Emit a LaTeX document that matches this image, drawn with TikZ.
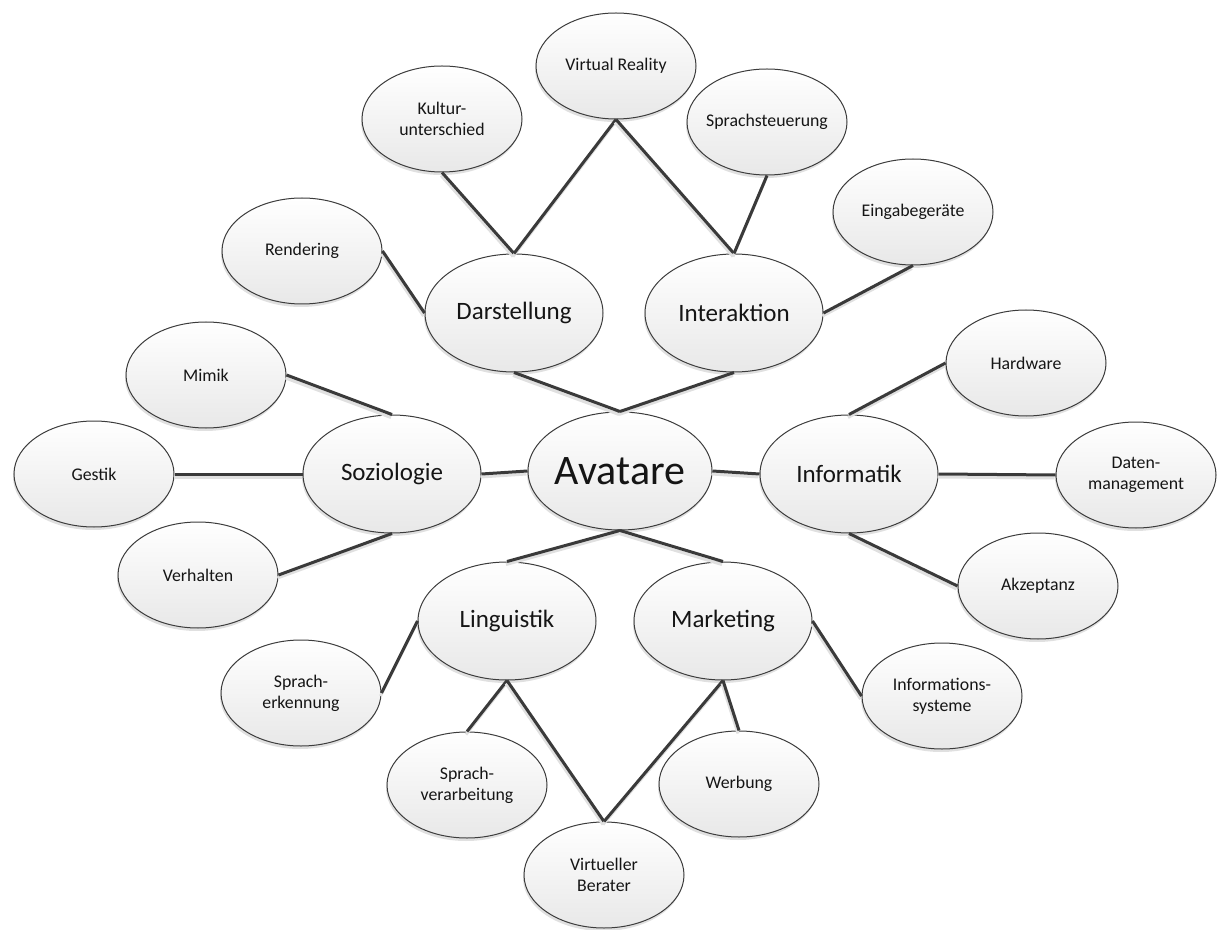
\documentclass[tikz,border=0pt]{standalone}
\usepackage{fontspec}
\setmainfont{Carlito}
\usepackage{tikz}
\usetikzlibrary{
  shapes.geometric,
  shadows,
  positioning
}
\definecolor{mmLine}{HTML}{3C3C3C}
\definecolor{mmEdge}{HTML}{3A3A3A}
\definecolor{mmTop}{HTML}{FFFFFF}
\definecolor{mmBot}{HTML}{E8E8E8}
\definecolor{mmShadow}{HTML}{E0E0E0}
\definecolor{mmText}{HTML}{151515}
\tikzset{
  mmnode/.style={
    ellipse, draw=mmLine, line width=0.5pt, top color=mmTop, bottom color=mmBot,
    align=center, text=mmText, inner xsep=-6pt, inner ysep=0pt,
    drop shadow={shadow xshift=-0.5pt, shadow yshift=-1.5pt, fill=mmShadow, opacity=1}
  },
  leaf/.style={mmnode, minimum width=80pt, minimum height=53pt, font=\fontsize{8.9}{10.4}\selectfont},
  topic/.style={mmnode, minimum width=89pt, minimum height=59pt, font=\fontsize{12.5}{15}\selectfont},
  root/.style={mmnode, minimum width=92pt, minimum height=59pt, font=\fontsize{21}{25}\selectfont},
  link/.style={
    line width=1.5pt, draw=mmEdge,
    preaction={draw=mmShadow, line width=1.5pt, transform canvas={xshift=-0.5pt, yshift=-1.5pt}}
  }
}

\begin{document}
\begin{tikzpicture}[x=0.5pt, y=-0.5pt]
  \useasboundingbox (0,0) rectangle (1220,930);

  % centre and topics
  \node[root]  (av)    at (620,471) {Avatare};
  \node[topic] (darst) at (514,313) {Darstellung};
  \node[topic] (inter) at (734,313) {Interaktion};
  \node[topic] (sozio) at (392,474) {Soziologie};
  \node[topic] (info)  at (849,474) {Informatik};
  \node[topic] (ling)  at (507,621) {Linguistik};
  \node[topic] (mark)  at (723,621) {Marketing};

  % leaves
  \node[leaf] (render)    at (302,251)  {Rendering};
  \node[leaf] (kultur)    at (442,119)  {Kultur-\\unterschied};
  \node[leaf] (vr)        at (616,66)   {Virtual Reality};
  \node[leaf] (sprst)     at (767,122)  {Sprachsteuerung};
  \node[leaf] (eingabe)   at (913,212)  {Eingabegeräte};
  \node[leaf] (mimik)     at (206,375)  {Mimik};
  \node[leaf] (gestik)    at (94,474)   {Gestik};
  \node[leaf] (verh)      at (198,575)  {Verhalten};
  \node[leaf] (hw)        at (1026,363) {Hardware};
  \node[leaf] (daten)     at (1136,475) {Daten-\\management};
  \node[leaf] (akz)       at (1038,586) {Akzeptanz};
  \node[leaf] (sprerk)    at (301,693)  {Sprach-\\erkennung};
  \node[leaf] (sprverarb) at (467,785)  {Sprach-\\verarbeitung};
  \node[leaf] (berater)   at (604,875)  {Virtueller\\Berater};
  \node[leaf] (werb)      at (739,784)  {Werbung};
  \node[leaf] (infosys)   at (942,696)  {Informations-\\systeme};

  \foreach \a/\b in {
    av.north/darst.south, av.north/inter.south, av.west/sozio.east,
    av.east/info.west, av.south/ling.north, av.south/mark.north,
    darst.west/render.east, darst.north/kultur.south, darst.north/vr.south,
    inter.north/vr.south, inter.north/sprst.south, inter.east/eingabe.south,
    sozio.north/mimik.east, sozio.west/gestik.east, sozio.south/verh.east,
    info.north/hw.west, info.east/daten.west, info.south/akz.west,
    ling.west/sprerk.east, ling.south/sprverarb.north, ling.south/berater.north,
    mark.south/berater.north, mark.south/werb.north, mark.east/infosys.west}
    \draw[link] (\a) -- (\b);
\end{tikzpicture}
\end{document}
